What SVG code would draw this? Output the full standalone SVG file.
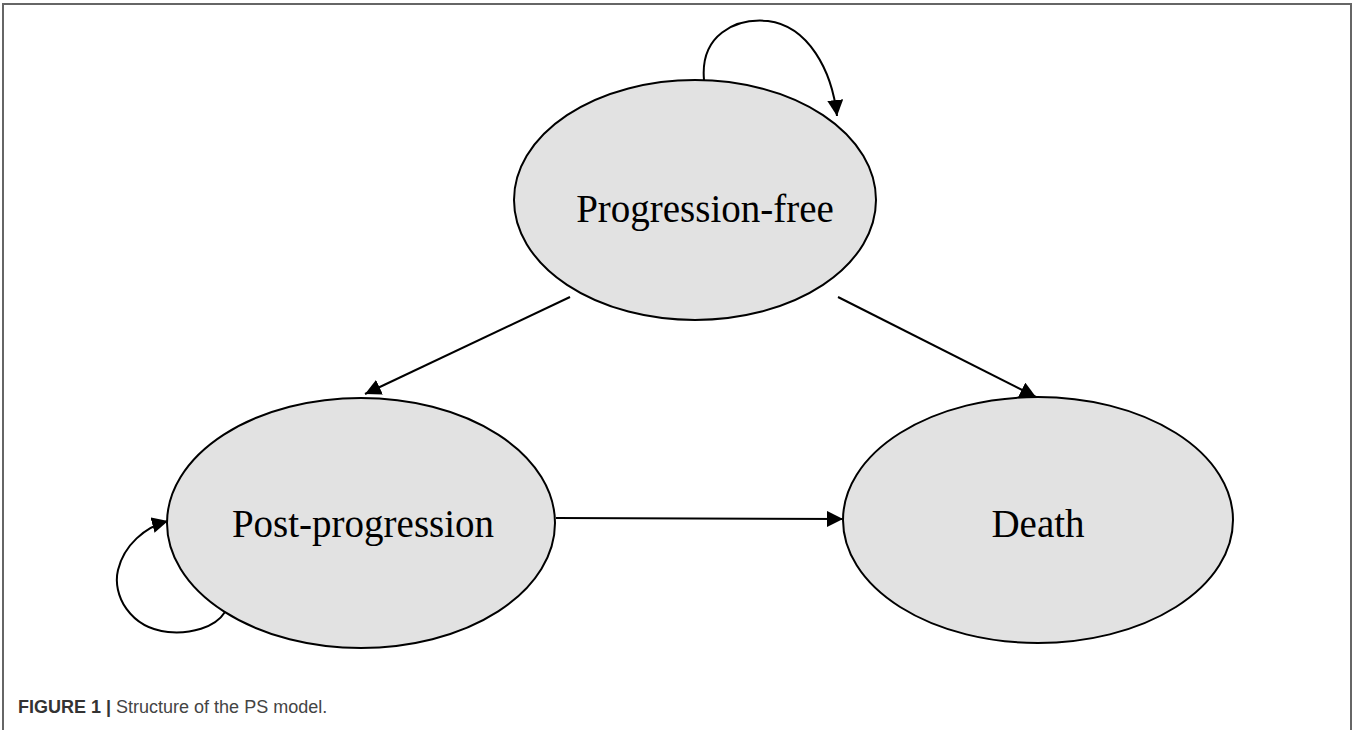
<svg xmlns="http://www.w3.org/2000/svg" width="1357" height="730" viewBox="0 0 1357 730">
<style>
.node{fill:#e2e2e2;stroke:#000;stroke-width:2}
.lbl{font-family:"Liberation Serif","Times New Roman",serif;font-size:39px;fill:#000;text-anchor:middle}
.edge{fill:none;stroke:#000;stroke-width:2}
.cap{font-family:"Liberation Sans",Arial,sans-serif;font-size:18px}
</style>
<defs>
<marker id="arrL" viewBox="0 0 10 10" refX="10" refY="5" markerWidth="16" markerHeight="16" markerUnits="userSpaceOnUse" orient="auto">
<path d="M0,0 L10,5 L0,10 z" fill="#000"/>
</marker>
</defs>
<rect width="1357" height="730" fill="#fff"/>
<path d="M3,730 V4 H1351 V730" fill="none" stroke="#666" stroke-width="2"/>
<g id="connectors">
<path class="edge" d="M570,297 L365,394" marker-end="url(#arrL)"/>
<path class="edge" d="M838,297 L1036,397" marker-end="url(#arrL)"/>
<path class="edge" d="M556,518 L843,519" marker-end="url(#arrL)"/>
<path class="edge" d="M704,80 C700,35 735,18 768,21 C808,26 832,70 837,116" marker-end="url(#arrL)"/>
<path class="edge" d="M225,612 C215,628 190,634 168,632 C130,628 112,595 118,570 C124,545 145,527 168,521" marker-end="url(#arrL)"/>
</g>
<g id="progression-free">
<ellipse class="node" cx="695" cy="200" rx="181" ry="120"/>
<text class="lbl" x="705" y="222">Progression-free</text>
</g>
<g id="post-progression">
<ellipse class="node" cx="361" cy="523" rx="194" ry="125"/>
<text class="lbl" x="363" y="537">Post-progression</text>
</g>
<g id="death">
<ellipse class="node" cx="1038" cy="520" rx="195" ry="123"/>
<text class="lbl" x="1038" y="537">Death</text>
</g>
<text class="cap" x="18" y="713"><tspan font-weight="bold" fill="#333">FIGURE 1 | </tspan><tspan fill="#444">Structure of the PS model.</tspan></text>
</svg>
